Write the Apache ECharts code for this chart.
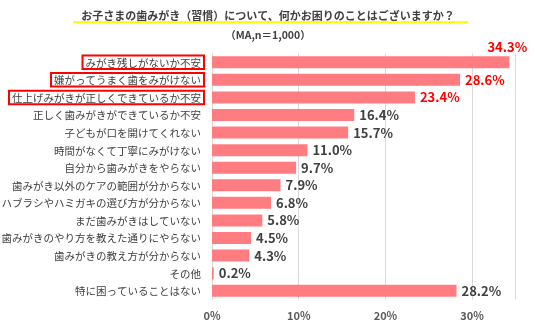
<!DOCTYPE html>
<html>
<head>
<meta charset="utf-8">
<script src="https://cdn.jsdelivr.net/npm/echarts@6/dist/echarts.min.js"></script>
<style>
html,body{margin:0;padding:0;background:#fff;}
#chart{width:536px;height:325px;}
</style>
</head>
<body>
<div id="chart"></div>
<script>
// Survey answers, top to bottom
const categories = [
  'みがき残しがないか不安',
  '嫌がってうまく歯をみがけない',
  '仕上げみがきが正しくできているか不安',
  '正しく歯みがきができているか不安',
  '子どもが口を開けてくれない',
  '時間がなくて丁寧にみがけない',
  '自分から歯みがきをやらない',
  '歯みがき以外のケアの範囲が分からない',
  'ハブラシやハミガキの選び方が分からない',
  'まだ歯みがきはしていない',
  '歯みがきのやり方を教えた通りにやらない',
  '歯みがきの教え方が分からない',
  'その他',
  '特に困っていることはない'
];
const values = [34.3, 28.6, 23.4, 16.4, 15.7, 11.0, 9.7, 7.9, 6.8, 5.8, 4.5, 4.3, 0.2, 28.2];
// Answers emphasised with a red frame and red value
const highlighted = [0, 1, 2];

const chart = echarts.init(document.getElementById('chart'));
const font = '"Noto Sans CJK JP", "Noto Sans", sans-serif';

const seriesData = values.map((v, i) => {
  if (!highlighted.includes(i)) return v;
  const label = { color: '#ff0000' };
  // the longest bar carries its value above its end
  if (i === 0) label.offset = [-27, -15];
  return { value: v, label };
});

chart.setOption({
  animation: false,
  textStyle: { fontFamily: font },
  title: [
    {
      text: 'お子さまの歯みがき（習慣）について、何かお困りのことはございますか？',
      left: 'center', top: 5,
      textStyle: { fontSize: 11, fontWeight: 'bold', color: '#404040', fontFamily: font }
    },
    {
      text: '（MA,n＝1,000）',
      left: 'center', top: 25,
      textStyle: { fontSize: 10.5, fontWeight: 'bold', color: '#404040', fontFamily: font }
    }
  ],
  graphic: [
    { type: 'rect', shape: { x: 73, y: 21, width: 395, height: 2 }, style: { fill: '#ffff00' } }
  ],
  grid: { left: 212, top: 53.5, width: 303.5, height: 246, outerBoundsMode: 'none', containLabel: false },
  xAxis: {
    type: 'value', min: 0, max: 35, interval: 10,
    axisLine: { show: false }, axisTick: { show: false },
    splitLine: { lineStyle: { color: '#d9d9d9' } },
    axisLabel: {
      formatter: v => (v % 10 === 0 ? v + '%' : ''),
      color: '#595959', fontSize: 11, fontWeight: 'bold', margin: 11, showMaxLabel: false
    }
  },
  yAxis: {
    type: 'category', inverse: true, data: categories,
    axisLine: { lineStyle: { color: '#d9d9d9' } }, axisTick: { show: false },
    axisLabel: {
      margin: 8,
      formatter: (v, i) => (highlighted.includes(i) ? '{box|' + v + '}' : '{plain|' + v + '}'),
      rich: {
        box: {
          fontSize: 10.5, color: '#404040',
          borderColor: '#ff0000', borderWidth: 2, padding: [2, 3, 1, 3]
        },
        plain: {
          fontSize: 10.5, color: '#404040',
          borderColor: 'transparent', borderWidth: 2, padding: [2, 3, 1, 3]
        }
      }
    }
  },
  series: [{
    type: 'bar', data: seriesData, barWidth: 12,
    itemStyle: { color: '#ff7c80' },
    label: {
      show: true, position: 'right', distance: 5,
      formatter: p => p.value.toFixed(1) + '%',
      fontSize: 13, fontWeight: 'bold',
      color: '#404040'
    }
  }]
});
</script>
</body>
</html>
